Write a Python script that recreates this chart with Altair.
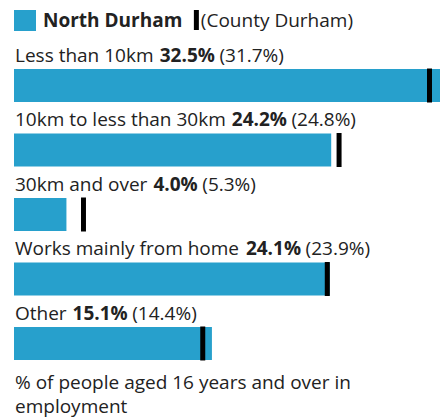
import altair as alt
import pandas as pd

# ---- data ----
categories = ["Less than 10km", "10km to less than 30km", "30km and over",
              "Works mainly from home", "Other"]
area_values = [32.5, 24.2, 4.0, 24.1, 15.1]        # North Durham
county_values = [31.7, 24.8, 5.3, 23.9, 14.4]      # County Durham
area_name = "North Durham"
county_name = "(County Durham)"
footer_lines = ["% of people aged 16 years and over in", "employment"]

# ---- style ----
FONT = "Open Sans"
FS = 19
BLUE = "#27a0cc"
TXT = "#222222"

# approximate Open Sans advance widths (units per em 2048) for offset of inline text runs
REG = {' ': 532, '%': 1700, '(': 600, ')': 600, '.': 545,
       'C': 1292, 'D': 1479, 'L': 1096, 'O': 1599, 'W': 1942, 'N': 1520,
       'a': 1139, 'b': 1255, 'c': 975, 'd': 1255, 'e': 1149, 'f': 694, 'g': 1122,
       'h': 1257, 'i': 518, 'k': 1075, 'l': 518, 'm': 1905, 'n': 1257, 'o': 1237,
       'p': 1255, 'r': 836, 's': 977, 't': 723, 'u': 1257, 'v': 1026, 'w': 1593,
       'y': 1028}
BOLD = {' ': 532, '%': 1802, '.': 586, 'N': 1573, 'D': 1505, 'o': 1237, 'r': 897,
        't': 764, 'h': 1300, 'u': 1300, 'a': 1194, 'm': 1931}


def tw(s, bold=False):
    tab = BOLD if bold else REG
    return sum(tab.get(c, 1171) for c in s) / 2048 * FS


X0 = 1
rows = []
for cat, v, c in zip(categories, area_values, county_values):
    vt = f"{v:.1f}%"
    ct = f"({c:.1f}%)"
    xv = X0 + tw(cat + " ") + 1
    xc = xv + tw(vt, True) + tw(" ")
    rows.append(dict(category=cat, value=v, county=c, vtext=vt, ctext=ct,
                     xl=X0, xv=xv, xc=xc))
df = pd.DataFrame(rows)

W = 426
H = 410
yscale = alt.Scale(range=[61, 352], paddingInner=0.488, paddingOuter=0)
xscale = alt.Scale(domain=[0, max(area_values)], nice=False, zero=True)

base = alt.Chart(df)
ycat = alt.Y("category:N", sort=categories, scale=yscale, axis=None)
ytxt = alt.Y("category:N", sort=categories, scale=yscale, axis=None, bandPosition=0)

bars = base.mark_bar(color=BLUE).encode(
    x=alt.X("value:Q", scale=xscale, axis=None), y=ycat)
ticks = base.mark_tick(color="black", thickness=5, size=34, opacity=1).encode(
    x=alt.X("county:Q", scale=xscale, axis=None), y=ycat)

lab_kw = dict(align="left", baseline="alphabetic", dy=-7, font=FONT, fontSize=FS, color=TXT)
t_label = base.mark_text(**lab_kw).encode(
    x=alt.X("xl:Q", scale=None), y=ytxt, text="category:N")
t_value = base.mark_text(fontWeight="bold", **lab_kw).encode(
    x=alt.X("xv:Q", scale=None), y=ytxt, text="vtext:N")
t_county = base.mark_text(**lab_kw).encode(
    x=alt.X("xc:Q", scale=None), y=ytxt, text="ctext:N")

one = alt.Chart(pd.DataFrame({"k": [0]}))
leg_sq = one.mark_rect(color=BLUE).encode(
    x=alt.value(0), x2=alt.value(22), y=alt.value(2), y2=alt.value(23))
leg_x_text = 29
leg_a = one.mark_text(align="left", baseline="alphabetic", font=FONT, fontSize=FS,
                      fontWeight="bold", color=TXT).encode(
    x=alt.value(leg_x_text), y=alt.value(19), text=alt.value(area_name))
tick_x = leg_x_text + tw(area_name, True) + 17
leg_tick = one.mark_rect(color="black").encode(
    x=alt.value(tick_x), x2=alt.value(tick_x + 5), y=alt.value(2), y2=alt.value(22))
leg_b = one.mark_text(align="left", baseline="alphabetic", font=FONT, fontSize=FS,
                      color=TXT).encode(
    x=alt.value(tick_x + 7), y=alt.value(19), text=alt.value(county_name))

footer = one.mark_text(align="left", baseline="alphabetic", font=FONT, fontSize=FS,
                       color=TXT, lineHeight=24).encode(
    x=alt.value(X0), y=alt.value(381), text=alt.value(footer_lines))

chart = alt.layer(bars, ticks, t_label, t_value, t_county,
                  leg_sq, leg_a, leg_tick, leg_b, footer).properties(
    width=W, height=H,
    autosize=alt.AutoSizeParams(type="none"),
    padding={"left": 6, "top": 0, "right": 0, "bottom": 0},
).configure_view(stroke=None)

chart.save("out.html", embed_options={"renderer": "svg", "actions": False})
